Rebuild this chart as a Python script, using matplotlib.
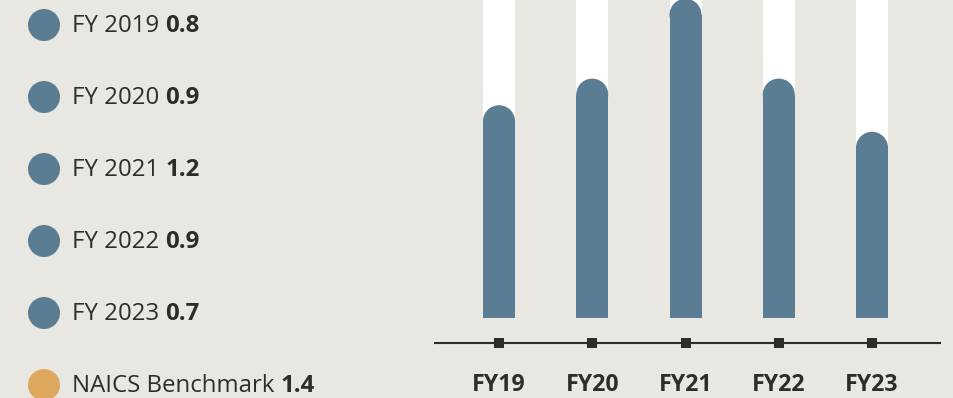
"""Injury rate by fiscal year against the NAICS benchmark."""
import matplotlib
matplotlib.use("Agg")
import matplotlib.pyplot as plt
from matplotlib.patches import Circle, Ellipse

plt.rcParams["font.family"] = ["Open Sans", "DejaVu Sans"]

years = ["FY 2019", "FY 2020", "FY 2021", "FY 2022", "FY 2023"]
short_labels = ["FY19", "FY20", "FY21", "FY22", "FY23"]
rates = [0.8, 0.9, 1.2, 0.9, 0.7]
benchmark_label = "NAICS Benchmark"
benchmark = 1.4

BG = "#e8e7e2"
BLUE = "#5a7d93"
GOLD = "#dda85d"
INK = "#2f2c29"

W, H = 954, 398
fig = plt.figure(figsize=(W / 100, H / 100), dpi=100, facecolor=BG)

# --- bar panel: axes spans full height, data scaled so 0 sits at y=318px
px_per_unit = 266.0
zero_px = 80.0          # from bottom
ax = fig.add_axes([434 / W, 0, (941 - 434) / W, 1])
ax.set_facecolor("none")
x_step = 93.25
ax.set_xlim((434 - 499) / x_step, (941 - 499) / x_step)
ax.set_ylim(-zero_px / px_per_unit, (H - zero_px) / px_per_unit)
ax.axis("off")

bar_w = 32 / x_step
cap_h = 32 / px_per_unit   # full height of the round cap
xs = list(range(len(rates)))

# white tracks up to the benchmark
ax.bar(xs, [benchmark - cap_h / 2] * len(xs), width=bar_w, color="white", lw=0)
for x in xs:
    ax.add_patch(Ellipse((x, benchmark - cap_h / 2), bar_w, cap_h,
                         color="white", lw=0))

# value bars with rounded tops
ax.bar(xs, [v - cap_h / 2 for v in rates], width=bar_w, color=BLUE, lw=0)
for x, v in zip(xs, rates):
    ax.add_patch(Ellipse((x, v - cap_h / 2), bar_w, cap_h, color=BLUE, lw=0))

# baseline with square tick marks
base_y = -25 / px_per_unit
ax.axhline(base_y, color=INK, lw=1.5)
ax.plot(xs, [base_y] * len(xs), "s", color=INK, ms=7.2, mew=0)
for x, lab in zip(xs, short_labels):
    ax.text(x, (13 - zero_px) / px_per_unit, lab, ha="center", va="center",
            fontsize=16.7, fontweight="bold", color=INK)

# --- legend on the left, in pixel coordinates
lg = fig.add_axes([0, 0, 1, 1])
lg.set_xlim(0, W)
lg.set_ylim(H, 0)
lg.axis("off")
lg.set_zorder(-1)

names = years + [benchmark_label]
vals = rates + [benchmark]
dots = [BLUE] * len(years) + [GOLD]
for i, (name, v, c) in enumerate(zip(names, vals, dots)):
    y = 25 + i * 72
    lg.add_patch(Circle((44, y), 16, color=c, lw=0))
    t = lg.text(72, y + 1, name, ha="left", va="center", fontsize=17.3,
                color=INK)
    lg.annotate(f"{v:.1f}", xy=(1, 0), xycoords=t, xytext=(4.5, 0),
                textcoords="offset points", ha="left", va="bottom",
                fontsize=17.3, fontweight="bold", color=INK)

fig.savefig("out.png", dpi=100, facecolor=BG)
